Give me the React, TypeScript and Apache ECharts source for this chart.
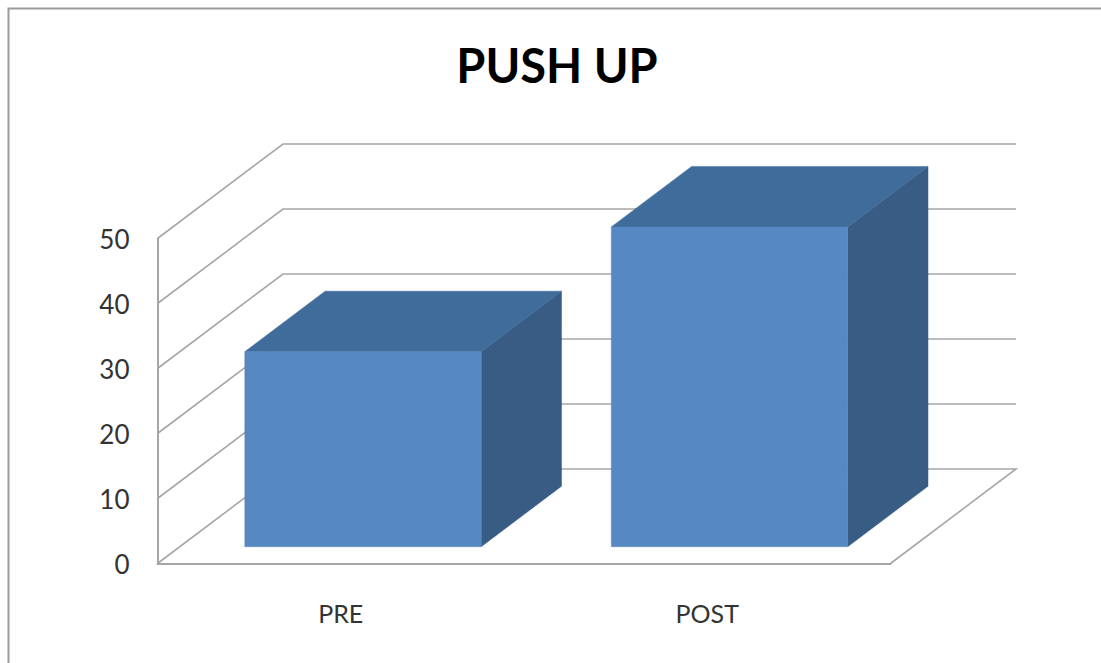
import React, { useEffect, useRef } from "react";
import * as echarts from "echarts";

const categories = ["PRE", "POST"];
const pushUps = [30, 49.2];
const yTicks = [0, 10, 20, 30, 40, 50];

// Projection of the 3D box: wall depth, and where bars stand on the floor.
const WALL_DX = 125.5;
const WALL_DY = -94.5;
const BAR_SHIFT_X = 22.25;
const BAR_SHIFT_Y = -16.8;
const BAR_DX = 80.3;
const BAR_DY = -60.5;
const BAR_RATIO = 0.645;

const LINE = "#a6a6a6";

const renderWall = (params: any, api: any) => {
  const cs = params.coordSys;
  const v = api.value(1);
  const y = api.coord([0, v])[1];
  const points: number[][] = [
    [cs.x, y],
    [cs.x + WALL_DX, y + WALL_DY],
    [cs.x + cs.width + WALL_DX, y + WALL_DY],
  ];
  if (v === yTicks[0]) points.push([cs.x + cs.width, y]);
  return {
    type: "polyline",
    shape: { points },
    style: { stroke: LINE, lineWidth: 1.6, fill: "none" },
  };
};

const renderBar = (_params: any, api: any) => {
  const base = api.coord([api.value(0), 0]);
  const top = api.coord([api.value(0), api.value(1)]);
  const w = api.size([1, 0])[0] * BAR_RATIO;
  const x0 = base[0] + BAR_SHIFT_X - w / 2;
  const x1 = x0 + w;
  const yb = base[1] + BAR_SHIFT_Y;
  const yt = top[1] + BAR_SHIFT_Y;
  const poly = (points: number[][], fill: string) => ({
    type: "polygon",
    shape: { points },
    style: { fill, stroke: fill, lineWidth: 0.5 },
  });
  return {
    type: "group",
    children: [
      poly([[x1, yb], [x1 + BAR_DX, yb + BAR_DY], [x1 + BAR_DX, yt + BAR_DY], [x1, yt]], "#385c84"),
      poly([[x0, yt], [x1, yt], [x1 + BAR_DX, yt + BAR_DY], [x0 + BAR_DX, yt + BAR_DY]], "#406c9b"),
      poly([[x0, yb], [x1, yb], [x1, yt], [x0, yt]], "#5689c2"),
    ],
  };
};

export default function App() {
  const ref = useRef<HTMLDivElement>(null);

  useEffect(() => {
    if (!ref.current) return;
    const chart = echarts.init(ref.current, undefined, { renderer: "svg" });
    chart.setOption({
      animation: false,
      backgroundColor: "#ffffff",
      title: {
        text: "PUSH UP",
        left: 552,
        top: 36,
        textAlign: "center",
        textStyle: { fontFamily: "Lato", fontWeight: "bold", fontSize: 47, color: "#000000" },
      },
      grid: { left: 157.5, top: 238.5, width: 733, height: 325 },
      xAxis: {
        type: "category",
        data: categories,
        axisLine: { show: true, lineStyle: { color: LINE, width: 2 } },
        axisTick: { show: false },
        axisLabel: { margin: 37, fontFamily: "Lato", fontSize: 25, color: "#333333" },
      },
      yAxis: {
        type: "value",
        min: 0,
        max: 50,
        interval: 10,
        axisLine: { show: true, lineStyle: { color: LINE, width: 2 } },
        axisTick: { show: false },
        splitLine: { show: false },
        axisLabel: { margin: 28, fontFamily: "Lato", fontSize: 26, color: "#333333", padding: [4, 0, 0, 0] },
      },
      graphic: [
        {
          type: "polyline",
          shape: { points: [[8.5, 663], [8.5, 8.5], [1101, 8.5]] },
          style: { stroke: "#9c9c9c", lineWidth: 2, fill: "none" },
        },
      ],
      series: [
        {
          type: "custom",
          renderItem: renderWall,
          data: yTicks.map((v) => [0, v]),
          clip: false,
          silent: true,
          z: 1,
        },
        {
          type: "custom",
          renderItem: renderBar,
          data: pushUps.map((v, i) => [i, v]),
          clip: false,
          silent: true,
          z: 2,
        },
      ],
    });
    return () => chart.dispose();
  }, []);

  return <div ref={ref} style={{ position: "fixed", left: 0, top: 0, width: 1101, height: 663 }} />;
}
